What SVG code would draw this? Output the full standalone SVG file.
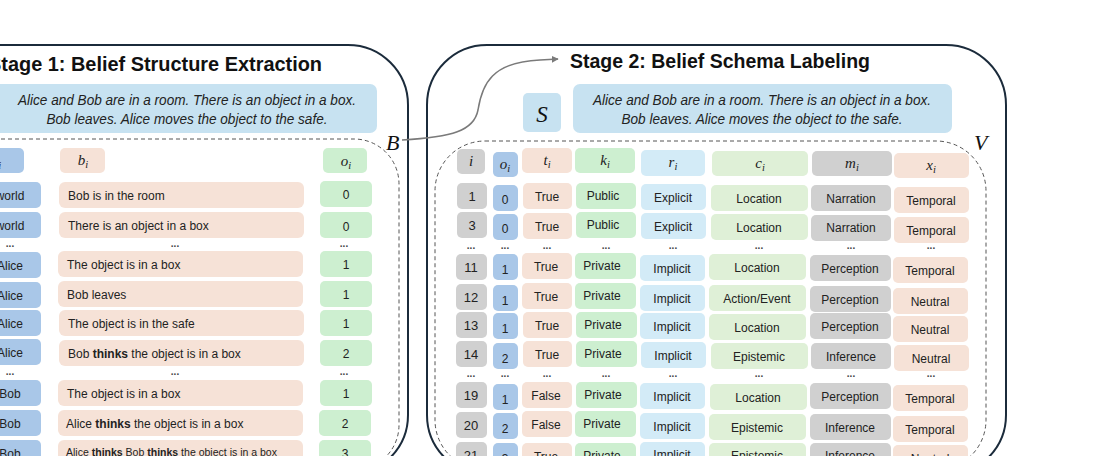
<svg xmlns="http://www.w3.org/2000/svg" width="1118" height="456" viewBox="0 0 1118 456">
<style>
.panel{fill:#fff;stroke:#1b2b3b;stroke-width:2}
.dash{fill:none;stroke:#555;stroke-width:1;stroke-dasharray:4 3}
.story{fill:#c7e2f1}
.blue{fill:#a9c7e8}
.peach{fill:#f6e2d7}
.green{fill:#cdefd0}
.lblue{fill:#d3ebf7}
.lgreen{fill:#dff0d7}
.gray{fill:#d0d0d0}
.title{font-family:"Liberation Sans",Arial,sans-serif;font-weight:bold;font-size:20px;fill:#111}
.it{font-family:"Liberation Sans",Arial,sans-serif;font-style:italic;font-size:14px;fill:#222}
.lbl{font-family:"Liberation Sans",Arial,sans-serif;font-size:12px;fill:#222}
.num{font-family:"Liberation Sans",Arial,sans-serif;font-size:13px;fill:#222;text-anchor:middle}
.c{text-anchor:middle}
.b{font-weight:bold}
.m{font-family:"Liberation Serif","Times New Roman",serif;font-style:italic;font-size:15px;fill:#222;text-anchor:middle}
.sub{font-size:10.5px}
.big{font-family:"Liberation Serif","Times New Roman",serif;font-style:italic;font-size:22px;fill:#111}
.dots{font-family:"Liberation Sans",Arial,sans-serif;font-size:10px;font-weight:bold;fill:#444;text-anchor:middle}
.conn{fill:none;stroke:#7a7a7a;stroke-width:1.5}
</style>
<defs>
<marker id="ah" viewBox="0 0 10 10" refX="9" refY="5" markerWidth="7" markerHeight="7" orient="auto" markerUnits="userSpaceOnUse">
<path d="M0,0 L10,5 L0,10 z" fill="#7a7a7a"/>
</marker>
</defs>
<rect width="1118" height="456" fill="#fff"/>

<g id="stage1">
<rect class="panel" x="-200" y="45" width="608" height="430" rx="60"/>
<text class="title" x="322" y="71" text-anchor="end" textLength="334" lengthAdjust="spacingAndGlyphs">Stage 1: Belief Structure Extraction</text>
</g>
<g id="story1">
<rect class="story" x="-10" y="84" width="387" height="49" rx="7"/>
<text class="it c" x="187" y="105" textLength="338" lengthAdjust="spacingAndGlyphs">Alice and Bob are in a room. There is an object in a box.</text>
<text class="it c" x="187" y="124" textLength="281" lengthAdjust="spacingAndGlyphs">Bob leaves. Alice moves the object to the safe.</text>
</g>
<g id="beliefs-B">
<rect class="dash" x="-100" y="139" width="499" height="331" rx="45"/>
<text class="big" x="386" y="150">B</text>
</g>
<g id="l-header">
<rect class="blue" x="-34" y="148" width="58" height="25" rx="5"/>
<text class="m" x="-4" y="166">a<tspan class="sub" dy="3">i</tspan></text>
<rect class="peach" x="60" y="148" width="45" height="25" rx="5"/>
<text class="m" x="83" y="165">b<tspan class="sub" dy="3">i</tspan></text>
<rect class="green" x="323" y="148" width="44" height="25" rx="5"/>
<text class="m" x="346" y="166">o<tspan class="sub" dy="3">i</tspan></text>
</g>
<g id="l-row1">
<rect class="blue" x="-21" y="182" width="62" height="26" rx="5"/><text class="lbl c" x="10" y="200">world</text>
<rect class="peach" x="59" y="182" width="245" height="26" rx="6"/><text class="lbl" x="68" y="200">Bob is in the room</text>
<rect class="green" x="320" y="181" width="52" height="26" rx="5"/><text class="lbl c" x="346" y="199">0</text>
</g>
<g id="l-row2">
<rect class="blue" x="-21" y="212" width="62" height="26" rx="5"/><text class="lbl c" x="10" y="230">world</text>
<rect class="peach" x="59" y="212" width="245" height="26" rx="6"/><text class="lbl" x="68" y="230">There is an object in a box</text>
<rect class="green" x="320" y="212" width="52" height="26" rx="5"/><text class="lbl c" x="346" y="231">0</text>
</g>
<g id="l-dots1">
<text class="dots" x="10" y="247">...</text><text class="dots" x="175" y="247">...</text><text class="dots" x="344" y="247">...</text>
</g>
<g id="l-row3">
<rect class="blue" x="-21" y="252" width="62" height="26" rx="5"/><text class="lbl c" x="10" y="270">Alice</text>
<rect class="peach" x="58" y="251" width="245" height="26" rx="6"/><text class="lbl" x="67" y="269">The object is in a box</text>
<rect class="green" x="320" y="251" width="52" height="26" rx="5"/><text class="lbl c" x="346" y="269">1</text>
</g>
<g id="l-row4">
<rect class="blue" x="-21" y="282" width="62" height="26" rx="5"/><text class="lbl c" x="10" y="300">Alice</text>
<rect class="peach" x="58" y="281" width="245" height="26" rx="6"/><text class="lbl" x="67" y="299">Bob leaves</text>
<rect class="green" x="320" y="281" width="52" height="26" rx="5"/><text class="lbl c" x="346" y="299">1</text>
</g>
<g id="l-row5">
<rect class="blue" x="-21" y="310" width="62" height="26" rx="5"/><text class="lbl c" x="10" y="328">Alice</text>
<rect class="peach" x="59" y="310" width="245" height="26" rx="6"/><text class="lbl" x="68" y="328">The object is in the safe</text>
<rect class="green" x="320" y="310" width="52" height="26" rx="5"/><text class="lbl c" x="346" y="328">1</text>
</g>
<g id="l-row6">
<rect class="blue" x="-21" y="339" width="62" height="26" rx="5"/><text class="lbl c" x="10" y="357">Alice</text>
<rect class="peach" x="59" y="340" width="245" height="26" rx="6"/><text class="lbl" x="68" y="358">Bob <tspan class="b">thinks</tspan> the object is in a box</text>
<rect class="green" x="320" y="340" width="52" height="26" rx="5"/><text class="lbl c" x="346" y="358">2</text>
</g>
<g id="l-dots2">
<text class="dots" x="10" y="375">...</text><text class="dots" x="175" y="375">...</text><text class="dots" x="344" y="375">...</text>
</g>
<g id="l-row7">
<rect class="blue" x="-21" y="380" width="62" height="26" rx="5"/><text class="lbl c" x="10" y="398">Bob</text>
<rect class="peach" x="58" y="380" width="245" height="26" rx="6"/><text class="lbl" x="67" y="398">The object is in a box</text>
<rect class="green" x="320" y="380" width="52" height="26" rx="5"/><text class="lbl c" x="346" y="398">1</text>
</g>
<g id="l-row8">
<rect class="blue" x="-21" y="410" width="62" height="26" rx="5"/><text class="lbl c" x="10" y="428">Bob</text>
<rect class="peach" x="58" y="410" width="245" height="26" rx="6"/><text class="lbl" x="66" y="428">Alice <tspan class="b">thinks</tspan> the object is in a box</text>
<rect class="green" x="319" y="410" width="52" height="26" rx="5"/><text class="lbl c" x="345" y="428">2</text>
</g>
<g id="l-row9">
<rect class="blue" x="-21" y="440" width="62" height="26" rx="5"/><text class="lbl c" x="10" y="458">Bob</text>
<rect class="peach" x="58" y="440" width="245" height="26" rx="6"/><text class="lbl" x="66" y="456" style="font-size:10.5px" textLength="211" lengthAdjust="spacingAndGlyphs">Alice <tspan class="b">thinks</tspan> Bob <tspan class="b">thinks</tspan> the object is in a box</text>
<rect class="green" x="319" y="440" width="52" height="26" rx="5"/><text class="lbl c" x="345" y="458">3</text>
</g>

<g id="stage2">
<rect class="panel" x="427" y="45" width="579" height="430" rx="60"/>
<text class="title" x="570" y="68" textLength="300" lengthAdjust="spacingAndGlyphs">Stage 2: Belief Schema Labeling</text>
</g>
<g id="S-node">
<rect class="story" x="523" y="93" width="38" height="39" rx="5"/>
<text class="big" x="542" y="122" text-anchor="middle" style="font-size:23px">S</text>
</g>
<g id="story2">
<rect class="story" x="573" y="84" width="379" height="49" rx="7"/>
<text class="it c" x="762" y="105" textLength="338" lengthAdjust="spacingAndGlyphs">Alice and Bob are in a room. There is an object in a box.</text>
<text class="it c" x="762" y="124" textLength="281" lengthAdjust="spacingAndGlyphs">Bob leaves. Alice moves the object to the safe.</text>
</g>
<g id="schema-V">
<rect class="dash" x="435" y="141" width="551" height="329" rx="50"/>
<text class="big" x="974" y="150">V</text>
</g>
<g id="r-header">
<rect class="gray" x="457" y="149" width="28" height="25" rx="5"/><text class="m" x="471" y="166">i</text>
<rect class="blue" x="493" y="152" width="25" height="25" rx="5"/><text class="m" x="505" y="169">o<tspan class="sub" dy="3">i</tspan></text>
<rect class="peach" x="522" y="148" width="50" height="25" rx="5"/><text class="m" x="547" y="165">t<tspan class="sub" dy="3">i</tspan></text>
<rect class="green" x="575" y="148" width="60" height="25" rx="5"/><text class="m" x="605" y="165">k<tspan class="sub" dy="3">i</tspan></text>
<rect class="lblue" x="641" y="150" width="64" height="26" rx="5"/><text class="m" x="673" y="167">r<tspan class="sub" dy="3">i</tspan></text>
<rect class="lgreen" x="712" y="151" width="96" height="25" rx="5"/><text class="m" x="760" y="168">c<tspan class="sub" dy="3">i</tspan></text>
<rect class="gray" x="812" y="151" width="80" height="25" rx="5"/><text class="m" x="852" y="168">m<tspan class="sub" dy="3">i</tspan></text>
<rect class="peach" x="894" y="153" width="75" height="25" rx="5"/><text class="m" x="931" y="170">x<tspan class="sub" dy="3">i</tspan></text>
</g>
<g id="r-row1">
<rect class="gray" x="457" y="183" width="30" height="26" rx="5"/><text class="num" x="472" y="201">1</text>
<rect class="blue" x="493" y="185" width="25" height="26" rx="5"/><text class="lbl c" x="505" y="204">0</text>
<rect class="peach" x="523" y="183" width="49" height="26" rx="5"/><text class="lbl c" x="547" y="201">True</text>
<rect class="green" x="576" y="183" width="60" height="26" rx="5"/><text class="lbl c" x="603" y="200">Public</text>
<rect class="lblue" x="641" y="184" width="65" height="26" rx="5"/><text class="lbl c" x="673" y="202">Explicit</text>
<rect class="lgreen" x="711" y="185" width="97" height="26" rx="5"/><text class="lbl c" x="759" y="203">Location</text>
<rect class="gray" x="811" y="185" width="80" height="26" rx="5"/><text class="lbl c" x="851" y="203">Narration</text>
<rect class="peach" x="894" y="187" width="75" height="26" rx="5"/><text class="lbl c" x="931" y="205">Temporal</text>
</g>
<g id="r-row3">
<rect class="gray" x="457" y="212" width="30" height="26" rx="5"/><text class="num" x="472" y="230">3</text>
<rect class="blue" x="493" y="214" width="25" height="26" rx="5"/><text class="lbl c" x="505" y="233">0</text>
<rect class="peach" x="523" y="213" width="49" height="26" rx="5"/><text class="lbl c" x="547" y="231">True</text>
<rect class="green" x="576" y="212" width="60" height="26" rx="5"/><text class="lbl c" x="603" y="229">Public</text>
<rect class="lblue" x="641" y="213" width="65" height="26" rx="5"/><text class="lbl c" x="673" y="231">Explicit</text>
<rect class="lgreen" x="711" y="214" width="97" height="26" rx="5"/><text class="lbl c" x="759" y="232">Location</text>
<rect class="gray" x="811" y="215" width="80" height="26" rx="5"/><text class="lbl c" x="851" y="232">Narration</text>
<rect class="peach" x="894" y="217" width="75" height="26" rx="5"/><text class="lbl c" x="931" y="235">Temporal</text>
</g>
<g id="r-dots1">
<text class="dots" x="471" y="249">...</text><text class="dots" x="505" y="249">...</text><text class="dots" x="547" y="249">...</text><text class="dots" x="606" y="249">...</text><text class="dots" x="673" y="249">...</text><text class="dots" x="759" y="249">...</text><text class="dots" x="851" y="249">...</text><text class="dots" x="931" y="249">...</text>
</g>
<g id="r-row11">
<rect class="gray" x="456" y="254" width="31" height="26" rx="5"/><text class="num" x="471" y="272">11</text>
<rect class="blue" x="493" y="254" width="25" height="26" rx="5"/><text class="lbl c" x="505" y="274">1</text>
<rect class="peach" x="522" y="253" width="50" height="26" rx="5"/><text class="lbl c" x="546" y="271">True</text>
<rect class="green" x="575" y="253" width="61" height="26" rx="5"/><text class="lbl c" x="602" y="270">Private</text>
<rect class="lblue" x="640" y="255" width="65" height="26" rx="5"/><text class="lbl c" x="672" y="273">Implicit</text>
<rect class="lgreen" x="709" y="254" width="97" height="26" rx="5"/><text class="lbl c" x="757" y="272">Location</text>
<rect class="gray" x="810" y="255" width="81" height="26" rx="5"/><text class="lbl c" x="850" y="273">Perception</text>
<rect class="peach" x="893" y="257" width="75" height="26" rx="5"/><text class="lbl c" x="930" y="275">Temporal</text>
</g>
<g id="r-row12">
<rect class="gray" x="456" y="284" width="31" height="26" rx="5"/><text class="num" x="471" y="302">12</text>
<rect class="blue" x="493" y="285" width="25" height="26" rx="5"/><text class="lbl c" x="505" y="305">1</text>
<rect class="peach" x="522" y="283" width="50" height="26" rx="5"/><text class="lbl c" x="546" y="301">True</text>
<rect class="green" x="575" y="283" width="61" height="26" rx="5"/><text class="lbl c" x="602" y="300">Private</text>
<rect class="lblue" x="640" y="285" width="65" height="26" rx="5"/><text class="lbl c" x="672" y="303">Implicit</text>
<rect class="lgreen" x="709" y="285" width="97" height="26" rx="5"/><text class="lbl c" x="757" y="303">Action/Event</text>
<rect class="gray" x="810" y="286" width="81" height="26" rx="5"/><text class="lbl c" x="850" y="304">Perception</text>
<rect class="peach" x="893" y="288" width="75" height="26" rx="5"/><text class="lbl c" x="930" y="306">Neutral</text>
</g>
<g id="r-row13">
<rect class="gray" x="456" y="312" width="31" height="26" rx="5"/><text class="num" x="471" y="330">13</text>
<rect class="blue" x="493" y="313" width="25" height="26" rx="5"/><text class="lbl c" x="505" y="333">1</text>
<rect class="peach" x="523" y="312" width="49" height="26" rx="5"/><text class="lbl c" x="547" y="330">True</text>
<rect class="green" x="576" y="312" width="61" height="26" rx="5"/><text class="lbl c" x="603" y="329">Private</text>
<rect class="lblue" x="640" y="313" width="65" height="26" rx="5"/><text class="lbl c" x="672" y="331">Implicit</text>
<rect class="lgreen" x="709" y="314" width="97" height="26" rx="5"/><text class="lbl c" x="757" y="332">Location</text>
<rect class="gray" x="810" y="313" width="81" height="26" rx="5"/><text class="lbl c" x="850" y="331">Perception</text>
<rect class="peach" x="893" y="316" width="75" height="26" rx="5"/><text class="lbl c" x="930" y="334">Neutral</text>
</g>
<g id="r-row14">
<rect class="gray" x="456" y="341" width="31" height="26" rx="5"/><text class="num" x="471" y="359">14</text>
<rect class="blue" x="493" y="343" width="25" height="26" rx="5"/><text class="lbl c" x="505" y="363">2</text>
<rect class="peach" x="523" y="341" width="49" height="26" rx="5"/><text class="lbl c" x="547" y="359">True</text>
<rect class="green" x="576" y="341" width="61" height="26" rx="5"/><text class="lbl c" x="603" y="358">Private</text>
<rect class="lblue" x="641" y="342" width="65" height="26" rx="5"/><text class="lbl c" x="673" y="360">Implicit</text>
<rect class="lgreen" x="711" y="343" width="97" height="26" rx="5"/><text class="lbl c" x="759" y="361">Epistemic</text>
<rect class="gray" x="811" y="343" width="80" height="26" rx="5"/><text class="lbl c" x="851" y="361">Inference</text>
<rect class="peach" x="894" y="345" width="75" height="26" rx="5"/><text class="lbl c" x="931" y="363">Neutral</text>
</g>
<g id="r-dots2">
<text class="dots" x="471" y="377">...</text><text class="dots" x="505" y="377">...</text><text class="dots" x="547" y="377">...</text><text class="dots" x="606" y="377">...</text><text class="dots" x="673" y="377">...</text><text class="dots" x="759" y="377">...</text><text class="dots" x="851" y="377">...</text><text class="dots" x="931" y="377">...</text>
</g>
<g id="r-row19">
<rect class="gray" x="456" y="382" width="31" height="26" rx="5"/><text class="num" x="471" y="400">19</text>
<rect class="blue" x="493" y="384" width="25" height="26" rx="5"/><text class="lbl c" x="505" y="404">1</text>
<rect class="peach" x="522" y="382" width="50" height="26" rx="5"/><text class="lbl c" x="546" y="400">False</text>
<rect class="green" x="576" y="382" width="61" height="26" rx="5"/><text class="lbl c" x="603" y="399">Private</text>
<rect class="lblue" x="640" y="383" width="65" height="26" rx="5"/><text class="lbl c" x="672" y="401">Implicit</text>
<rect class="lgreen" x="710" y="384" width="97" height="26" rx="5"/><text class="lbl c" x="758" y="402">Location</text>
<rect class="gray" x="810" y="383" width="81" height="26" rx="5"/><text class="lbl c" x="850" y="401">Perception</text>
<rect class="peach" x="893" y="385" width="75" height="26" rx="5"/><text class="lbl c" x="930" y="403">Temporal</text>
</g>
<g id="r-row20">
<rect class="gray" x="456" y="412" width="31" height="26" rx="5"/><text class="num" x="471" y="430">20</text>
<rect class="blue" x="493" y="413" width="25" height="26" rx="5"/><text class="lbl c" x="505" y="433">2</text>
<rect class="peach" x="522" y="411" width="50" height="26" rx="5"/><text class="lbl c" x="546" y="429">False</text>
<rect class="green" x="575" y="411" width="61" height="26" rx="5"/><text class="lbl c" x="602" y="428">Private</text>
<rect class="lblue" x="640" y="413" width="65" height="26" rx="5"/><text class="lbl c" x="672" y="431">Implicit</text>
<rect class="lgreen" x="709" y="414" width="97" height="26" rx="5"/><text class="lbl c" x="757" y="432">Epistemic</text>
<rect class="gray" x="810" y="414" width="81" height="26" rx="5"/><text class="lbl c" x="850" y="432">Inference</text>
<rect class="peach" x="893" y="416" width="75" height="26" rx="5"/><text class="lbl c" x="930" y="434">Temporal</text>
</g>
<g id="r-row21">
<rect class="gray" x="456" y="442" width="31" height="26" rx="5"/><text class="num" x="471" y="460">21</text>
<rect class="blue" x="493" y="443" width="25" height="26" rx="5"/><text class="lbl c" x="505" y="463">3</text>
<rect class="peach" x="522" y="443" width="50" height="26" rx="5"/><text class="lbl c" x="546" y="461">True</text>
<rect class="green" x="575" y="443" width="61" height="26" rx="5"/><text class="lbl c" x="602" y="460">Private</text>
<rect class="lblue" x="640" y="442" width="65" height="26" rx="5"/><text class="lbl c" x="672" y="459">Implicit</text>
<rect class="lgreen" x="709" y="443" width="97" height="26" rx="5"/><text class="lbl c" x="757" y="460">Epistemic</text>
<rect class="gray" x="810" y="443" width="81" height="26" rx="5"/><text class="lbl c" x="850" y="460">Inference</text>
<rect class="peach" x="893" y="445" width="75" height="26" rx="5"/><text class="lbl c" x="930" y="463">Neutral</text>
</g>

<g id="connectors">
<path class="conn" d="M402,140 C452,137 474,131 478,110 C482,84 492,62 540,60 L558,59" marker-end="url(#ah)"/>
</g>
</svg>
